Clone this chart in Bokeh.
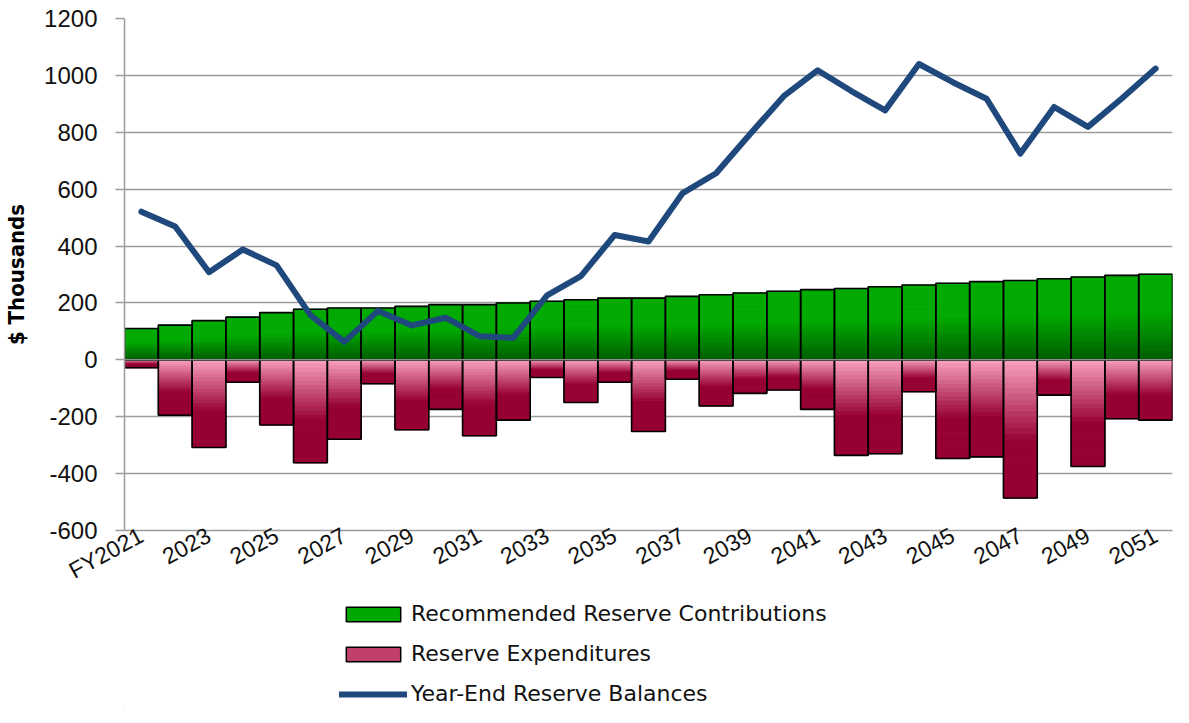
import numpy as np
from bokeh.plotting import figure
from bokeh.layouts import column
from bokeh.models import FixedTicker, Legend, LegendItem, Span, ColumnDataSource
from bokeh.embed import file_html
from bokeh.resources import INLINE

# ---------------- data ----------------
years = list(range(2021, 2052))
contributions = [110, 122, 138, 150, 166, 178, 182, 182, 188, 194, 194, 200, 206,
                 211, 217, 217, 223, 229, 235, 241, 247, 251, 257, 263, 269, 275,
                 279, 285, 291, 297, 301]
expenditures = [-28, -195, -308, -79, -229, -362, -279, -84, -246, -174, -267, -212, -62,
                -150, -79, -252, -68, -162, -118, -106, -174, -336, -330, -112, -347,
                -341, -486, -124, -375, -207, -212]
balances = [521, 469, 308, 388, 332, 157, 63, 172, 121, 148, 83, 77, 227,
            294, 439, 416, 585, 656, 793, 927, 1018, 945, 877, 1040, 976, 918,
            725, 889, 819, 919, 1024]
tick_years = years[::2]
tick_labels = ["FY2021"] + [str(y) for y in tick_years[1:]]
y_ticks = [-600, -400, -200, 0, 200, 400, 600, 800, 1000, 1200]

series_names = ["Recommended Reserve Contributions", "Reserve Expenditures",
                "Year-End Reserve Balances"]

# ---------------- helpers ----------------
def hex2rgb(h):
    h = h.lstrip("#")
    return tuple(int(h[i:i + 2], 16) for i in (0, 2, 4))

def rgb2hex(c):
    return "#%02x%02x%02x" % tuple(int(round(v)) for v in c)

def lerp(c1, c2, t):
    a, b = hex2rgb(c1), hex2rgb(c2)
    return rgb2hex([a[i] + (b[i] - a[i]) * t for i in range(3)])

G_TOP, G_BOT = "#00aa00", "#005e00"
P_TOP, P_BOT = "#fba4c0", "#960032"
LINE_COLOR = "#1f497d"

def green_color(f):  # f = 0 at top, 1 at bottom (zero line)
    if f < 0.45:
        return G_TOP
    return lerp(G_TOP, G_BOT, (f - 0.45) / 0.55)

def pink_color(f):  # f = 0 at zero line, 1 at bottom
    if f < 0.6:
        return lerp(P_TOP, P_BOT, f / 0.6)
    return P_BOT

N = 24
xs = list(range(len(years)))
seg = dict(x=[], top=[], bottom=[], color=[])
for i, v in zip(xs, contributions):
    for k in range(N):
        f0, f1 = k / N, (k + 1) / N
        seg["x"].append(i)
        seg["top"].append(v * (1 - f0))
        seg["bottom"].append(v * (1 - f1))
        seg["color"].append(green_color((f0 + f1) / 2))
for i, v in zip(xs, expenditures):
    for k in range(N):
        f0, f1 = k / N, (k + 1) / N
        seg["x"].append(i)
        seg["top"].append(v * f0)
        seg["bottom"].append(v * f1)
        seg["color"].append(pink_color((f0 + f1) / 2))

# ---------------- main figure ----------------
W = 1173
H1 = 600
H2 = 107
LEFT = 124
p = figure(width=W, height=H1, output_backend="svg", toolbar_location=None,
           x_range=(-0.5, len(years) - 0.5), y_range=(-600, 1200),
           min_border_left=LEFT, min_border_top=18, min_border_right=1,
           min_border_bottom=H1 - 530)
p.outline_line_color = None
p.background_fill_color = "white"
p.border_fill_color = "white"

p.vbar(x="x", top="top", bottom="bottom", width=1.0, fill_color="color",
       line_color="color", line_width=1.0, source=ColumnDataSource(seg))
p.vbar(x=xs, top=contributions, bottom=0, width=1.0, fill_color=None,
       line_color="black", line_width=1.6)
p.vbar(x=xs, top=0, bottom=expenditures, width=1.0, fill_color=None,
       line_color="black", line_width=1.6)

p.add_layout(Span(location=0, dimension="width", line_color="#8c8c8c", line_width=1.5))

p.line(xs, balances, line_color=LINE_COLOR, line_width=6,
       line_join="round", line_cap="round")

p.xgrid.grid_line_color = None
p.ygrid.grid_line_color = "#9c9c9c"
p.ygrid.grid_line_width = 1.5
p.ygrid.ticker = FixedTicker(ticks=y_ticks)

p.yaxis.ticker = FixedTicker(ticks=y_ticks)
p.yaxis.major_label_overrides = {t: str(t) for t in y_ticks}
p.yaxis.minor_tick_line_color = None
p.yaxis.major_tick_out = 9
p.yaxis.major_tick_in = 0
p.yaxis.major_tick_line_color = "#9c9c9c"
p.yaxis.major_tick_line_width = 1.5
p.yaxis.axis_line_color = "#9c9c9c"
p.yaxis.axis_line_width = 1.5
p.yaxis.major_label_text_font = "Liberation Sans"
p.yaxis.major_label_text_font_size = "24px"
p.yaxis.major_label_text_color = "#111111"
p.yaxis.major_label_standoff = 18
p.yaxis.axis_label = "$ Thousands"
p.yaxis.axis_label_text_font = "'Liberation Sans Narrow', 'DejaVu Sans Condensed', 'Liberation Sans'"
p.yaxis.axis_label_text_font_style = "bold"
p.yaxis.axis_label_text_font_size = "22px"
p.yaxis.axis_label_text_color = "black"
p.yaxis.axis_label_standoff = 12

p.xaxis.ticker = FixedTicker(ticks=xs[::2])
p.xaxis.major_label_overrides = {i: lab for i, lab in zip(xs[::2], tick_labels)}
p.xaxis.major_label_orientation = 0.5
p.xaxis.minor_tick_line_color = None
p.xaxis.major_tick_out = 0
p.xaxis.major_tick_in = 0
p.xaxis.axis_line_color = "#9c9c9c"
p.xaxis.axis_line_width = 1.5
p.xaxis.major_label_text_font = "Liberation Sans"
p.xaxis.major_label_text_font_size = "23px"
p.xaxis.major_label_text_color = "#111111"
p.xaxis.major_label_standoff = 3

# ---------------- legend figure ----------------
q = figure(width=W, height=H2, output_backend="svg", toolbar_location=None,
           x_range=(0, 1), y_range=(0, 1), x_axis_location=None, y_axis_location=None,
           min_border_left=0, min_border_right=0, min_border_top=0, min_border_bottom=0)
q.outline_line_color = None
q.grid.grid_line_color = None
q.background_fill_color = "white"
q.border_fill_color = "white"

# off-screen renderers used only for the legend swatches
leg_g = q.vbar(x=[-10], top=[-10], bottom=[-11], width=1, fill_color="#00a800",
               line_color="black", line_width=1.5)
leg_p = q.vbar(x=[-10], top=[-10], bottom=[-11], width=1, fill_color="#c0406a",
               line_color="black", line_width=1.5)
leg_l = q.line(x=[-10, -9], y=[-10, -10], line_color=LINE_COLOR, line_width=6,
               line_cap="round")

legend = Legend(items=[LegendItem(label=series_names[0], renderers=[leg_g]),
                       LegendItem(label=series_names[1], renderers=[leg_p]),
                       LegendItem(label=series_names[2], renderers=[leg_l])],
                location=(215, 1), orientation="vertical")
legend.glyph_width = 68
legend.glyph_height = 18
legend.label_text_font = "DejaVu Sans"
legend.label_text_font_size = "22px"
legend.label_text_color = "#111111"
legend.label_standoff = 4
legend.spacing = 15
legend.padding = 0
legend.margin = 0
legend.border_line_color = None
legend.background_fill_alpha = 0
q.add_layout(legend, "center")

layout = column(p, q, spacing=0)
open("out.html", "w").write(file_html(layout, INLINE))
